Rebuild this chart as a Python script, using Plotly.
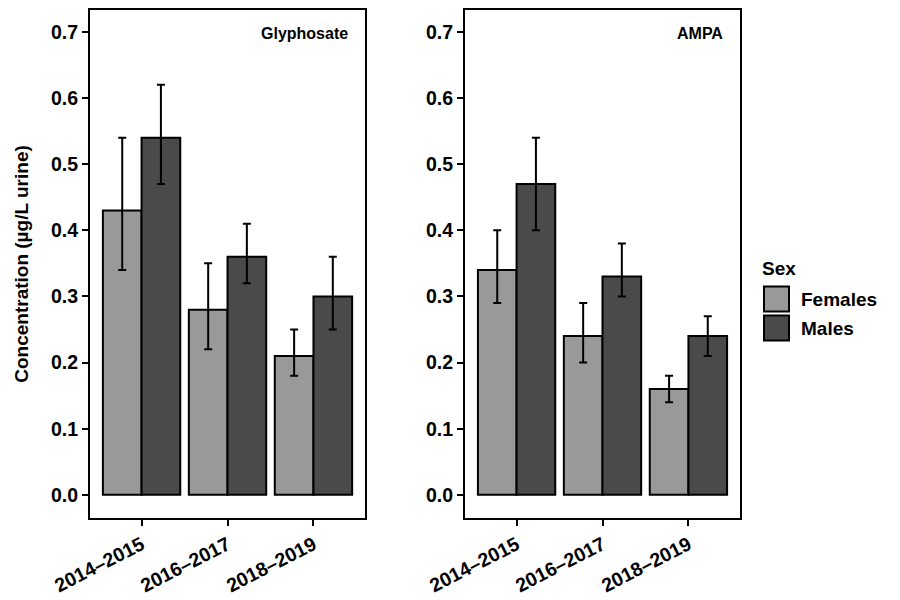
import plotly.graph_objects as go

periods = ["2014\u20132015", "2016\u20132017", "2018\u20132019"]
panels = ["Glyphosate", "AMPA"]
sexes = ["Females", "Males"]
colors = {"Females": "#999999", "Males": "#4a4a4a"}

# values[panel][sex]
means = {
    "Glyphosate": {"Females": [0.43, 0.28, 0.21], "Males": [0.54, 0.36, 0.30]},
    "AMPA": {"Females": [0.34, 0.24, 0.16], "Males": [0.47, 0.33, 0.24]},
}
lower = {
    "Glyphosate": {"Females": [0.34, 0.22, 0.18], "Males": [0.47, 0.32, 0.25]},
    "AMPA": {"Females": [0.29, 0.20, 0.14], "Males": [0.40, 0.30, 0.21]},
}
upper = {
    "Glyphosate": {"Females": [0.54, 0.35, 0.25], "Males": [0.62, 0.41, 0.36]},
    "AMPA": {"Females": [0.40, 0.29, 0.18], "Males": [0.54, 0.38, 0.27]},
}
yticks = [0.0, 0.1, 0.2, 0.3, 0.4, 0.5, 0.6, 0.7]

FONT = "Liberation Sans, Arial, sans-serif"
fig = go.Figure()
for i, p in enumerate(panels):
    xa = "x" if i == 0 else "x2"
    ya = "y" if i == 0 else "y2"
    for s in sexes:
        m = means[p][s]
        fig.add_trace(go.Bar(
            x=periods, y=m, name=s, xaxis=xa, yaxis=ya,
            marker=dict(color=colors[s], line=dict(color="black", width=2)),
            error_y=dict(type="data", symmetric=False,
                         array=[u - v for u, v in zip(upper[p][s], m)],
                         arrayminus=[v - l for v, l in zip(m, lower[p][s])],
                         color="black", thickness=2, width=4),
            showlegend=False, offsetgroup=s,
        ))

axis_common = dict(showline=True, linecolor="black", linewidth=2, mirror=True,
                   ticks="outside", ticklen=6, tickwidth=2, tickcolor="black",
                   showgrid=False, zeroline=False, automargin=False,
                   tickfont=dict(family=FONT, size=19.5, color="black", weight="bold"))
ymin, ymax = -0.035, 0.733
fig.update_layout(
    width=900, height=600, margin=dict(l=0, r=0, t=0, b=0),
    plot_bgcolor="white", paper_bgcolor="white",
    barmode="group", bargap=0.1, bargroupgap=0,
    xaxis=dict(domain=[0.1, 0.4056], range=[-0.6, 2.6], tickangle=-27, **axis_common),
    xaxis2=dict(domain=[0.5167, 0.8222], range=[-0.6, 2.6], tickangle=-27, anchor="y2", **axis_common),
    yaxis=dict(domain=[0.1367, 0.9833], range=[ymin, ymax], tickvals=yticks,
               tickformat=".1f", **axis_common,
               title=dict(text="Concentration (\u00b5g/L urine)", standoff=17,
                          font=dict(family=FONT, size=19, color="black", weight="bold"))),
    yaxis2=dict(domain=[0.1367, 0.9833], range=[ymin, ymax], tickvals=yticks,
                tickformat=".1f", anchor="x2", **axis_common),
)

# panel labels
for xref, yref, p in [("x domain", "y domain", "Glyphosate"), ("x2 domain", "y2 domain", "AMPA")]:
    fig.add_annotation(text=p, xref=xref, yref=yref, x=0.945, y=0.954,
                       xanchor="right", yanchor="middle", showarrow=False,
                       font=dict(family=FONT, size=16, color="black", weight="bold"))

# legend (drawn manually)
fig.add_annotation(text="Sex", xref="paper", yref="paper", x=760/900, y=1-269/600,
                   xanchor="left", yanchor="middle", showarrow=False,
                   font=dict(family=FONT, size=19, color="black", weight="bold"))
for k, s in enumerate(sexes):
    yc = 299 + k * 29
    fig.add_shape(type="rect", xref="paper", yref="paper",
                  x0=764/900, x1=789/900, y0=1-(yc+12.5)/600, y1=1-(yc-12.5)/600,
                  fillcolor=colors[s], line=dict(color="black", width=2))
    fig.add_annotation(text=s, xref="paper", yref="paper", x=799/900, y=1-yc/600,
                       xanchor="left", yanchor="middle", showarrow=False,
                       font=dict(family=FONT, size=19, color="black", weight="bold"))

fig.write_html("out.html")
